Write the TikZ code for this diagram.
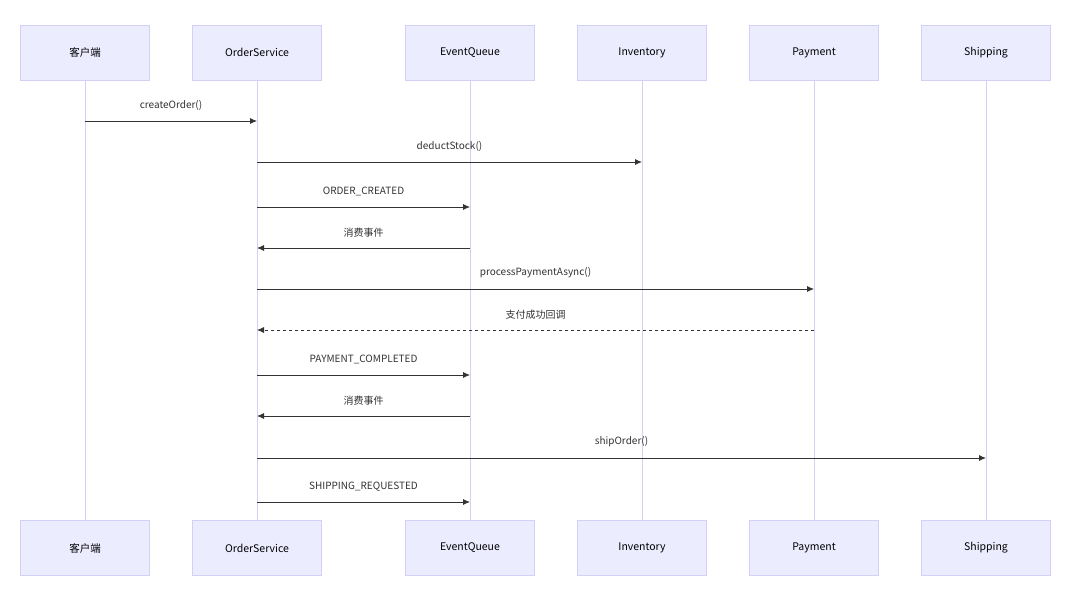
\documentclass[tikz,border=0pt]{standalone}
\usepackage{fontspec}
\setmainfont{Noto Sans CJK SC}
\usetikzlibrary{arrows.meta}
\definecolor{boxfill}{HTML}{ECECFF}
\definecolor{boxline}{HTML}{D4D0F5}
\definecolor{msgline}{HTML}{333333}
\tikzset{
  actor/.style = {draw=boxline, fill=boxfill, minimum width=129pt, minimum height=55pt,
    inner sep=0pt, font=\fontsize{10.5}{12}\selectfont},
  life/.style = {draw=boxline, line width=1pt},
  msg/.style = {draw=msgline, line width=0.8pt, -{Latex[length=7pt,width=6pt]}},
  reply/.style = {msg, dashed},
  lbl/.style = {font=\fontsize{10}{12}\selectfont, text=msgline}
}

\begin{document}
\begin{tikzpicture}[x=1pt,y=-1pt]
  \useasboundingbox[fill=white] (0,0) rectangle (1080,608);
  % participants, top and bottom
  \foreach \n/\x/\t in {cl/85/客户端, os/257/OrderService, eq/470/EventQueue,
      inv/642/Inventory, pay/814/Payment, ship/986/Shipping} {
    \node[actor] (\n) at (\x,52.5) {\t};
    \node[actor] (\n-b) at (\x,548) {\t};
    \draw[life] (\n.south) -- (\n-b.north);
  }
  % messages
  \foreach \f/\t/\y/\s/\m in {cl/os/121/msg/createOrder(), os/inv/162/msg/deductStock(),
      os/eq/207/msg/ORDER\_CREATED, eq/os/248/msg/消费事件,
      os/pay/289/msg/processPaymentAsync(), pay/os/330/reply/支付成功回调,
      os/eq/375/msg/PAYMENT\_COMPLETED, eq/os/416/msg/消费事件,
      os/ship/458/msg/shipOrder(), os/eq/502/msg/SHIPPING\_REQUESTED} {
    \draw[\s] (\f |- 0,\y) -- (\t |- 0,\y)
      node[lbl, midway, above=7pt] {\m};
  }
\end{tikzpicture}
\end{document}
